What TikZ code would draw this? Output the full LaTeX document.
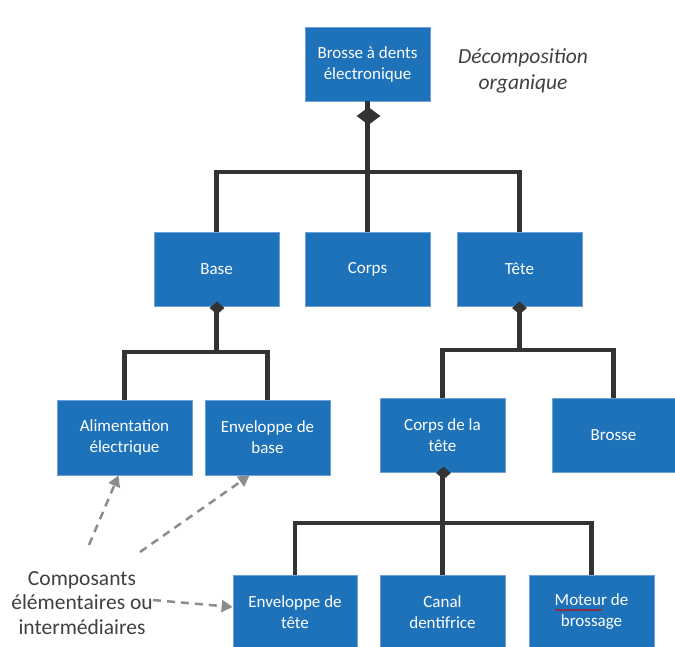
\documentclass[tikz,border=0pt]{standalone}
\usepackage{fontspec}
\setmainfont{Carlito}
\usetikzlibrary{arrows.meta,calc,shapes.geometric,decorations.pathmorphing}
\definecolor{boxblue}{RGB}{30,114,185}
\definecolor{boxedge}{RGB}{110,160,215}
\definecolor{conncol}{RGB}{51,51,51}
\definecolor{dashcol}{RGB}{140,140,140}
\definecolor{labelcol}{RGB}{64,64,64}
\tikzset{
  partbox/.style={rectangle, fill=boxblue, draw=boxedge, line width=0.8pt,
    text=white, align=center, inner sep=0pt,
    font=\fontsize{17}{21}\selectfont},
  conn/.style={draw=conncol, line width=4.5pt, line join=miter},
  comp/.style={diamond, fill=conncol, draw=none, inner sep=0pt, aspect=1},
  hint/.style={draw=dashcol, line width=2.5pt, dash pattern=on 8pt off 6pt,
    -{Triangle[length=11pt,width=12pt]}},
  lbl/.style={text=labelcol, align=center}
}
\begin{document}
\begin{tikzpicture}[x=1pt,y=-1pt]
\useasboundingbox (0,0) rectangle (675,647);
% boxes
\node[partbox, minimum width=125pt, minimum height=74pt] (top) at (367.5,64) {Brosse à dents\\électronique};
\node[partbox, minimum width=125pt, minimum height=74pt] (base) at (216.5,269) {Base};
\node[partbox, minimum width=125pt, minimum height=74pt] (corps) at (367.5,269) {Corps};
\node[partbox, minimum width=125pt, minimum height=74pt] (tete) at (519.5,269) {Tête};
\node[partbox, minimum width=135pt, minimum height=75pt] (alim) at (124.5,437.5) {Alimentation\\électrique};
\node[partbox, minimum width=125pt, minimum height=75pt] (envb) at (267.5,437.5) {Enveloppe de\\base};
\node[partbox, minimum width=125pt, minimum height=74pt] (corpst) at (442.5,435) {Corps de la\\tête};
\node[partbox, minimum width=123pt, minimum height=74pt] (brosse) at (613.5,435) {Brosse};
\node[partbox, minimum width=124pt, minimum height=74pt] (envt) at (295,612) {Enveloppe de\\tête};
\node[partbox, minimum width=125pt, minimum height=74pt] (canal) at (442.5,612) {Canal\\dentifrice};
\node[partbox, minimum width=125pt, minimum height=74pt] (moteur) at (591.5,612) {Moteur de\\brossage};
% spell-check underline
\coordinate (sq1) at (555,610);
\coordinate (sq2) at (602,610);
\draw[red!80!black, line width=0.7pt, decorate, decoration={snake, segment length=3pt, amplitude=0.8pt}] (sq1) -- (sq2);
% bus coordinates
\coordinate (b1) at (367.5,172);
\coordinate (b2) at (216.5,352);
\coordinate (b3) at (519.5,350);
\coordinate (b4) at (442.5,523);
% composition lines
\draw[conn] (top.south) -- (b1);
\draw[conn] (base.north) |- (b1) -| (tete.north);
\draw[conn] (b1) -- (corps.north);
\draw[conn] (base.south) -- (b2);
\draw[conn] (alim.north) |- (b2) -| (envb.north);
\draw[conn] (tete.south) -- (b3);
\draw[conn] (corpst.north) |- (b3) -| (brosse.north);
\draw[conn] (corpst.south) -- (b4);
\draw[conn] (envt.north) |- (b4) -| (moteur.north);
\draw[conn] (b4) -- (canal.north);
% diamonds
\node[comp, minimum width=24pt, minimum height=18pt] (d1) at (368.5,116) {};
\node[comp, minimum width=15pt, minimum height=13pt] (d2) at (217,308) {};
\node[comp, minimum width=15pt, minimum height=13pt] (d3) at (519.5,308) {};
\node[comp, minimum width=15pt, minimum height=13pt] (d4) at (443.5,473) {};
% labels
\node[lbl, font=\fontsize{21.5}{26}\selectfont\itshape] (title) at (523,71) {Décomposition\\organique};
\node[lbl, font=\fontsize{21.5}{24.5}\selectfont] (note) at (82,603) {Composants\\élémentaires ou\\intermédiaires};
% hint arrows
\coordinate (h1) at (89,545);
\coordinate (h2) at (140,552);
\coordinate (h3) at (153,600);
\draw[hint] (h1) -- ($(alim.south)+(-6,0)$);
\draw[hint] (h2) -- ($(envb.south)+(-18,0)$);
\draw[hint] (h3) -- ($(envt.west)+(0,-5)$);
\end{tikzpicture}
\end{document}
